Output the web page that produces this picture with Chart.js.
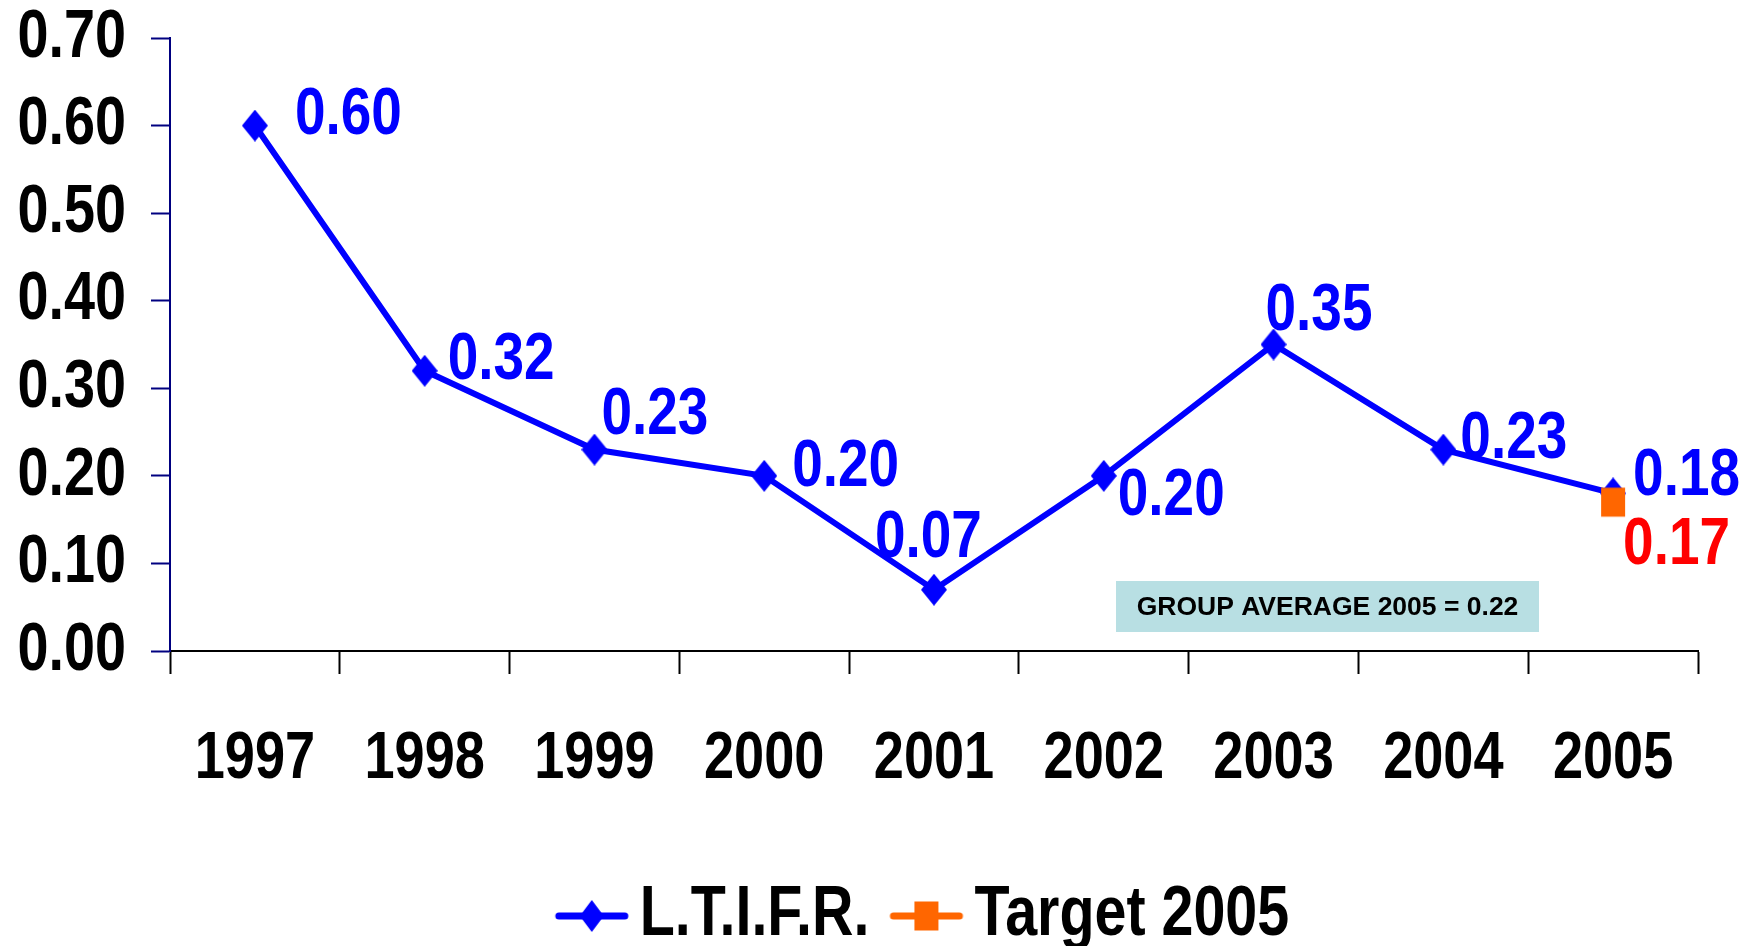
<!DOCTYPE html>
<html>
<head>
<meta charset="utf-8">
<script src="https://cdn.jsdelivr.net/npm/chart.js@4/dist/chart.umd.min.js"></script>
<style>
  html, body { margin: 0; padding: 0; background: #fff; }
  #wrap { width: 1744px; height: 946px; }
</style>
</head>
<body>
<div id="wrap"><canvas id="myChart" width="1744" height="946"></canvas></div>
<script>
// data
var years = ['1997', '1998', '1999', '2000', '2001', '2002', '2003', '2004', '2005'];
var ltifr = [0.60, 0.32, 0.23, 0.20, 0.07, 0.20, 0.35, 0.23, 0.18];
var target2005 = [null, null, null, null, null, null, null, null, 0.17];
var seriesNames = ['L.T.I.F.R.', 'Target 2005'];
var groupNote = 'GROUP AVERAGE 2005 = 0.22';

var font = '"Liberation Sans", Arial, sans-serif';

// no Arial Narrow here, so squeeze the text horizontally on this canvas
var ctx = document.getElementById('myChart').getContext('2d');
var proto = CanvasRenderingContext2D.prototype;
ctx.condense = 0.82;
ctx.fillText = function(text, x, y) {
    var k = this.condense;
    if (k == 1) return proto.fillText.call(this, text, x, y);
    this.save();
    this.translate(x, y);
    this.scale(k, 1);
    proto.fillText.call(this, text, 0, 0);
    this.restore();
};
ctx.measureText = function(text) {
    var m = proto.measureText.call(this, text);
    var k = this.condense;
    return {
        width: m.width * k,
        actualBoundingBoxLeft: m.actualBoundingBoxLeft * k,
        actualBoundingBoxRight: m.actualBoundingBoxRight * k,
        actualBoundingBoxAscent: m.actualBoundingBoxAscent,
        actualBoundingBoxDescent: m.actualBoundingBoxDescent,
        fontBoundingBoxAscent: m.fontBoundingBoxAscent,
        fontBoundingBoxDescent: m.fontBoundingBoxDescent
    };
};

// markers: tall diamond and a slightly tall square, with or without the legend line
function marker(color, shape, withLine) {
    var c = document.createElement('canvas');
    c.width = withLine ? 76 : 26;
    c.height = withLine ? 36 : 32;
    var g = c.getContext('2d');
    var cx = c.width / 2, cy = c.height / 2;
    if (withLine) {
        g.strokeStyle = color;
        g.lineWidth = 7;
        g.lineCap = 'round';
        g.beginPath();
        g.moveTo(5, cy);
        g.lineTo(71, cy);
        g.stroke();
    }
    g.fillStyle = color;
    if (shape == 'diamond') {
        var w = withLine ? 12 : 13;
        g.beginPath();
        g.moveTo(cx, cy - 16);
        g.lineTo(cx + w, cy);
        g.lineTo(cx, cy + 16);
        g.lineTo(cx - w, cy);
        g.closePath();
        g.fill();
    } else {
        g.fillRect(cx - 12, cy - 14.5, 24, 29);
    }
    return c;
}
var pointShapes = [marker('#0000FF', 'diamond', false), marker('#FF6600', 'square', false)];
var icons = [marker('#0000FF', 'diamond', true), marker('#FF6600', 'square', true)];

// value labels next to the points + the group average box
var valueLabels = {
    id: 'valueLabels',
    afterDatasetsDraw: function(chart) {
        var c = chart.ctx;
        // [dx, dy of caps centre] from each point
        var offs = [[40, -16], [23, -16], [7, -40], [28, -14], [-59, -57], [14, 15], [-8, -39], [17, -16], [20, -22]];
        c.save();
        c.font = 'bold 67px ' + font;
        c.textAlign = 'left';
        c.textBaseline = 'alphabetic';
        chart.getDatasetMeta(0).data.forEach(function(pt, i) {
            c.fillStyle = '#0000FF';
            c.fillText(ltifr[i].toFixed(2), pt.x + offs[i][0], pt.y + offs[i][1] + 24);
        });
        chart.getDatasetMeta(1).data.forEach(function(pt, i) {
            if (target2005[i] == null) return;
            c.fillStyle = '#FF0000';
            c.fillText(target2005[i].toFixed(2), pt.x + 10, pt.y + 38 + 24);
        });

        var bx = 1116, by = 581, bw = 423, bh = 51;
        c.fillStyle = '#B8DFE3';
        c.fillRect(bx, by, bw, bh);
        c.condense = 1;
        c.fillStyle = '#000';
        c.font = 'bold 26.5px ' + font;
        c.textAlign = 'center';
        c.textBaseline = 'middle';
        c.fillText(groupNote, bx + bw / 2, by + bh / 2 + 1);
        c.condense = 0.82;
        c.restore();
    }
};

var graphData = {
    type: 'line',
    data: {
        labels: years,
        datasets: [{
            label: seriesNames[0],
            data: ltifr,
            borderColor: '#0000FF',
            backgroundColor: '#0000FF',
            borderWidth: 6,
            pointStyle: pointShapes[0],
            pointRadius: 14,
            pointHoverRadius: 14,
            order: 1
        },
        {
            label: seriesNames[1],
            data: target2005,
            borderColor: '#FF6600',
            backgroundColor: '#FF6600',
            borderWidth: 6,
            pointStyle: pointShapes[1],
            pointRadius: 15,
            pointHoverRadius: 15,
            order: 0
        }]
    },
    options: {
        responsive: false,
        animation: false,
        layout: {
            padding: { left: 0, right: 46, top: 38, bottom: -15 }
        },
        plugins: {
            tooltip: { enabled: false },
            legend: {
                position: 'bottom',
                fullSize: false,
                labels: {
                    color: '#000',
                    font: { family: font, size: 70, weight: 'bold', lineHeight: 1 },
                    usePointStyle: true,
                    pointStyleWidth: 26,
                    padding: 44,
                    generateLabels: function(chart) {
                        var items = Chart.defaults.plugins.legend.labels.generateLabels(chart);
                        items.sort(function(a, b) { return a.datasetIndex - b.datasetIndex; });
                        items.forEach(function(it) { it.pointStyle = icons[it.datasetIndex]; });
                        return items;
                    }
                }
            }
        },
        scales: {
            x: {
                offset: true,
                grid: {
                    offset: true,
                    drawOnChartArea: false,
                    drawTicks: true,
                    tickLength: 23,
                    tickWidth: 2,
                    tickColor: '#000'
                },
                border: { color: '#000', width: 2 },
                ticks: {
                    color: '#000',
                    padding: 53,
                    maxRotation: 0,
                    font: { family: font, size: 66, weight: 'bold', lineHeight: 1 }
                },
                afterFit: function(scale) { scale.height = 186; }
            },
            y: {
                min: 0,
                max: 0.7,
                grid: {
                    drawOnChartArea: false,
                    drawTicks: true,
                    tickLength: 19,
                    tickWidth: 2,
                    tickColor: '#000080'
                },
                border: { color: '#000080', width: 2 },
                ticks: {
                    stepSize: 0.1,
                    color: '#000',
                    padding: 25,
                    font: { family: font, size: 68, weight: 'bold', lineHeight: 0.3 },
                    callback: function(value) { return value.toFixed(2); }
                },
                afterFit: function(scale) { scale.width = 170; }
            }
        }
    },
    plugins: [valueLabels]
};

var myChart = new Chart(ctx, graphData);
</script>
</body>
</html>
